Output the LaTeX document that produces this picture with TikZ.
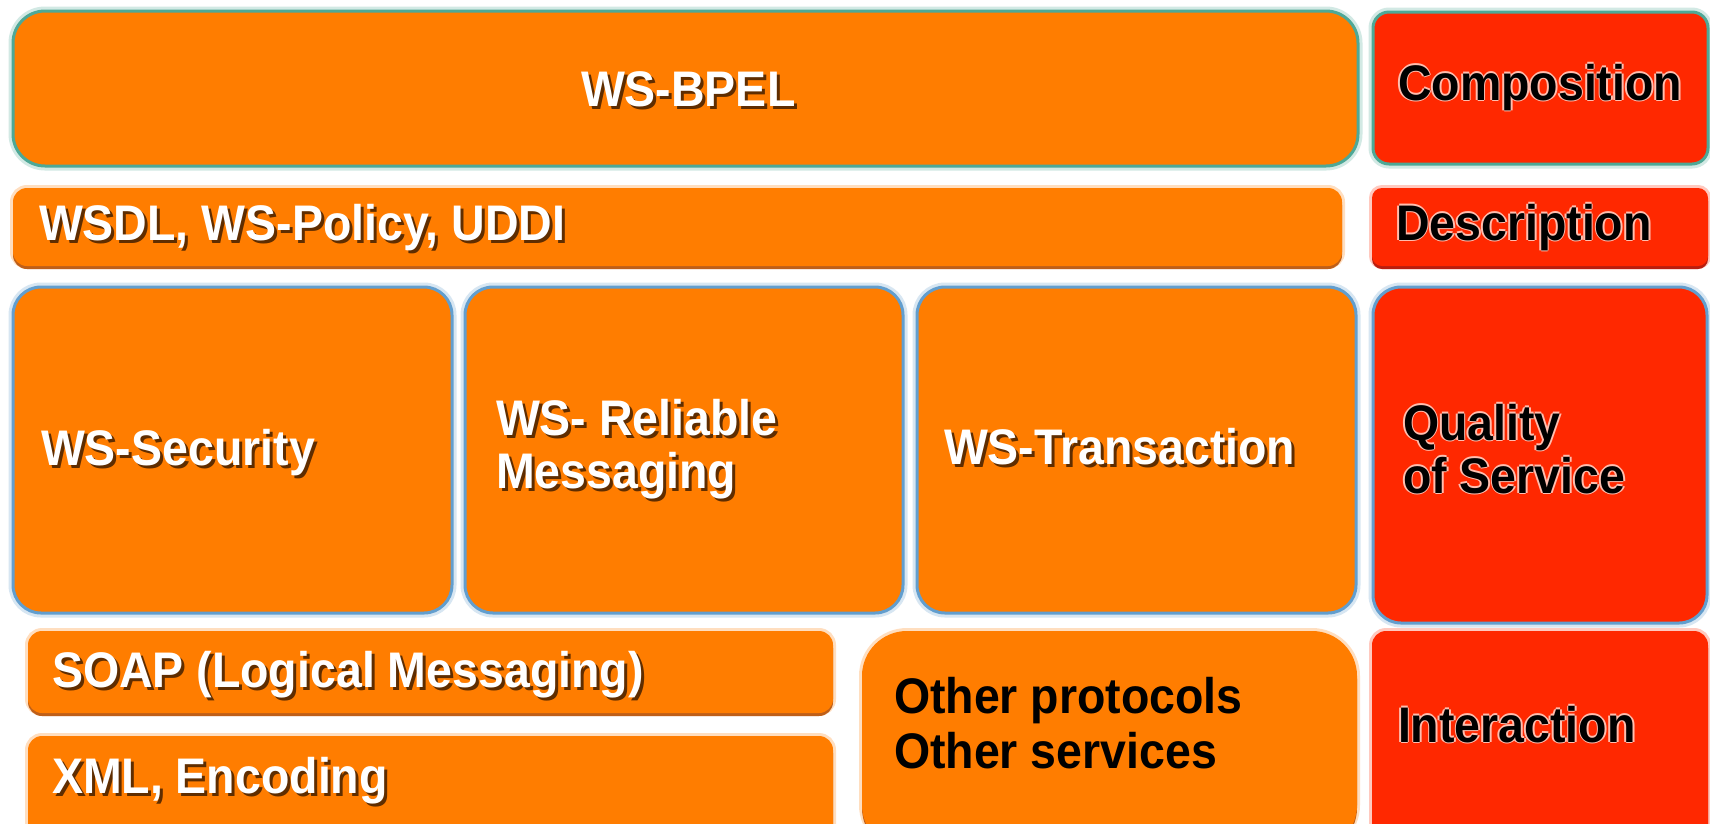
\documentclass[tikz,border=0pt]{standalone}
\usepackage{fontspec}
\setmainfont[FakeStretch=0.93]{Liberation Sans}
\usetikzlibrary{fit}

\definecolor{stack}{RGB}{255,125,0}
\definecolor{role}{RGB}{255,40,0}
\definecolor{tealedge}{RGB}{78,168,150}
\definecolor{blueedge}{RGB}{98,158,206}
\definecolor{stackshade}{RGB}{190,95,25}
\definecolor{roleshade}{RGB}{185,30,15}
\definecolor{dropshadow}{RGB}{95,45,0}
\definecolor{halo}{RGB}{255,190,175}

\tikzset{
  panel/.style={fit={#1}, inner sep=0pt, outer sep=0pt},
  tealpanel/.style={draw=tealedge, line width=3pt,
    preaction={draw=tealedge, draw opacity=0.25, line width=9pt}},
  bluepanel/.style={draw=blueedge, line width=3pt,
    preaction={draw=blueedge, draw opacity=0.25, line width=9pt}},
  flatpanel/.style={
    preaction={draw=#1, draw opacity=0.25, line width=6pt},
    preaction={fill=#1shade, transform canvas={yshift=-3pt}}},
  lbl/.style={anchor=base west, inner sep=0pt, outer sep=0pt,
    font=\bfseries\fontsize{50}{53}\selectfont},
  whitelbl/.style={lbl, text=white},
  blacklbl/.style={lbl, text=black},
}

% text with a dark drop shadow behind it
\newcommand\shadowed[1]{\leavevmode
  \rlap{\kern3pt\raisebox{-3pt}{\color{dropshadow}#1}}#1}
% text with a pale halo round it
\newcommand\haloed[1]{\leavevmode
  \rlap{\kern1.8pt{\color{halo}#1}}\rlap{\kern-1.8pt{\color{halo}#1}}%
  \rlap{\raisebox{1.8pt}{\color{halo}#1}}\rlap{\raisebox{-1.8pt}{\color{halo}#1}}%
  #1}

\begin{document}
\begin{tikzpicture}[x=1pt,y=-1pt]
\useasboundingbox (0,0) rectangle (1710,823);
\clip (0,0) rectangle (1710,823);
\fill[white] (0,0) rectangle (1710,823);

% composition layer
\node[panel={(13,11) (1358,166)}, fill=stack, tealpanel, rounded corners=32pt] (bpel) {};
\node[panel={(1373,12) (1708,164)}, fill=role, tealpanel, rounded corners=16pt] (comp) {};

% description layer
\node[panel={(13,188) (1342,266)}, fill=stack, flatpanel=stack, rounded corners=14pt] (wsdl) {};
\node[panel={(1372,188) (1708,266)}, fill=role, flatpanel=role, rounded corners=10pt] (desc) {};

% quality of service layer
\node[panel={(13,287) (452,613)}, fill=stack, bluepanel, rounded corners=28pt] (sec) {};
\node[panel={(465,287) (903,613)}, fill=stack, bluepanel, rounded corners=28pt] (rel) {};
\node[panel={(917,287) (1356,613)}, fill=stack, bluepanel, rounded corners=28pt] (trans) {};
\node[panel={(1373,287) (1707,623)}, fill=role, bluepanel, rounded corners=28pt] (qos) {};

% interaction layer
\node[panel={(28,631) (833,713)}, fill=stack, flatpanel=stack, rounded corners=14pt] (soap) {};
\node[panel={(28,736) (833,850)}, fill=stack, flatpanel=stack, rounded corners=14pt] (xml) {};
\node[panel={(862,631) (1357,850)}, fill=stack, flatpanel=stack, rounded corners=45pt] (other) {};
\node[panel={(1372,631) (1708,850)}, fill=role, flatpanel=role, rounded corners=14pt] (inter) {};

% labels
\node[whitelbl] (bpel-t) at (581,106) {\shadowed{WS-BPEL}};
\node[blacklbl] (comp-t) at (1398,100) {\haloed{Composition}};
\node[whitelbl] (wsdl-t) at (39,240) {\shadowed{WSDL, WS-Policy, UDDI}};
\node[blacklbl] (desc-t) at (1396,240) {\haloed{Description}};
\node[whitelbl] (sec-t) at (41,465) {\shadowed{WS-Security}};
\node[whitelbl] (rel-t1) at (496,435) {\shadowed{WS- Reliable}};
\node[whitelbl] (rel-t2) at (496,488) {\shadowed{Messaging}};
\node[whitelbl] (trans-t) at (944,464) {\shadowed{WS-Transaction}};
\node[blacklbl] (qos-t1) at (1403,440) {\haloed{Quality}};
\node[blacklbl] (qos-t2) at (1403,493) {\haloed{of Service}};
\node[whitelbl] (soap-t) at (52,687) {\shadowed{SOAP (Logical Messaging)}};
\node[whitelbl] (xml-t) at (52,793) {\shadowed{XML, Encoding}};
\node[blacklbl] (other-t1) at (894,713) {Other protocols};
\node[blacklbl] (other-t2) at (894,768) {Other services};
\node[blacklbl] (inter-t) at (1398,742) {\haloed{Interaction}};
\end{tikzpicture}
\end{document}
